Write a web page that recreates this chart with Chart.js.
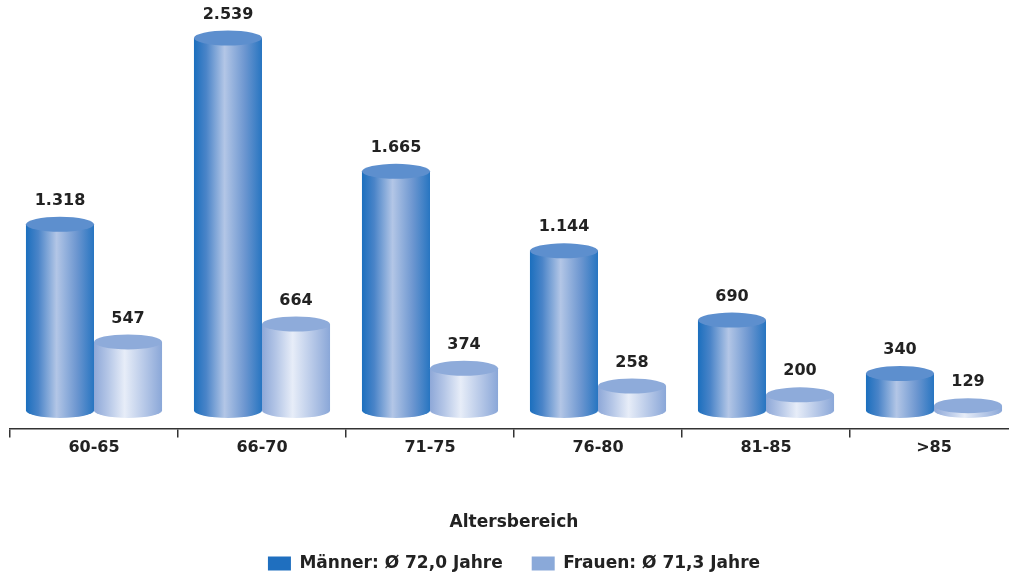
<!DOCTYPE html>
<html lang="de">
<head>
<meta charset="utf-8">
<title>Altersbereich</title>
<script src="https://cdn.jsdelivr.net/npm/chart.js@4/dist/chart.umd.min.js"></script>
<style>
  html, body { margin: 0; padding: 0; background: #fff; overflow: hidden; }
  #wrap { width: 1020px; height: 579px; }
</style>
</head>
<body>
<div id="wrap"><canvas id="ageChart" width="1020" height="579"></canvas></div>
<script>
const categories = ['60-65', '66-70', '71-75', '76-80', '81-85', '>85'];
const maenner = [1318, 2539, 1665, 1144, 690, 340];
const frauen = [547, 664, 374, 258, 200, 129];
const seriesNames = ['Männer: Ø 72,0 Jahre', 'Frauen: Ø 71,3 Jahre'];
const axisTitle = 'Altersbereich';

const FONT = "'DejaVu Sans', Verdana, sans-serif";
const TEXT = '#222';

// cylinder colours: gradient across the body, flat colour on the lid
const styles = [
  { swatch: '#1f6fbf', lid: '#5d8fce',
    stops: [[0, '#1b6fbe'], [0.18, '#4a84c8'], [0.45, '#b3c6e6'], [0.75, '#6c96d0'], [1, '#2775c1']] },
  { swatch: '#8aa9d9', lid: '#8eabda',
    stops: [[0, '#8ea8d8'], [0.2, '#b3c5e6'], [0.45, '#e7edf8'], [0.75, '#b5c7e7'], [1, '#8aa7d8']] }
];

function fmt(v) {
  return String(v).replace(/\B(?=(\d{3})+(?!\d))/g, '.');
}

// draws every bar as a cylinder plus its value, instead of the flat bars
const cylinders = {
  id: 'cylinders',
  beforeDatasetsDraw(chart) {
    const ctx = chart.ctx;
    const metas = chart.data.datasets.map((d, i) => chart.getDatasetMeta(i));
    for (let j = 0; j < categories.length; j++) {
      metas.forEach((meta, i) => {
        const bar = meta.data[j];
        const w = bar.width, x0 = bar.x - w / 2, rx = w / 2, ry = 7.5;
        const top = bar.y, base = bar.base;
        const st = styles[i];
        const g = ctx.createLinearGradient(x0, 0, x0 + w, 0);
        st.stops.forEach(s => g.addColorStop(s[0], s[1]));
        ctx.save();
        ctx.fillStyle = g;
        ctx.beginPath();
        ctx.moveTo(x0, top);
        ctx.lineTo(x0, base);
        ctx.ellipse(bar.x, base, rx, ry, 0, Math.PI, 0, true);
        ctx.lineTo(x0 + w, top);
        ctx.closePath();
        ctx.fill();
        ctx.fillStyle = st.lid;
        ctx.beginPath();
        ctx.ellipse(bar.x, top, rx, ry, 0, 0, Math.PI * 2);
        ctx.fill();
        ctx.fillStyle = TEXT;
        ctx.font = 'bold 16px ' + FONT;
        ctx.textAlign = 'center';
        ctx.textBaseline = 'middle';
        ctx.fillText(fmt(chart.data.datasets[i].data[j]), bar.x, top - ry - 16);
        ctx.restore();
      });
    }
    return false;
  }
};

const ctx = document.getElementById('ageChart').getContext('2d');
const ageChart = new Chart(ctx, {
  type: 'bar',
  data: {
    labels: categories,
    datasets: [
      { label: seriesNames[0], data: maenner, backgroundColor: styles[0].swatch,
        base: 98, categoryPercentage: 0.81, barPercentage: 1 },
      { label: seriesNames[1], data: frauen, backgroundColor: styles[1].swatch,
        base: 98, categoryPercentage: 0.81, barPercentage: 1 }
    ]
  },
  options: {
    responsive: false,
    animation: false,
    layout: { padding: { left: 10, right: 2, top: 16, bottom: -3 } },
    plugins: {
      legend: {
        position: 'bottom',
        labels: {
          boxWidth: 23, boxHeight: 14, padding: 29, color: TEXT,
          font: { family: FONT, size: 17, weight: 'bold' }
        }
      },
      tooltip: { enabled: false }
    },
    scales: {
      x: {
        grid: { offset: true, drawOnChartArea: false, tickLength: 9, color: '#333', lineWidth: 1.5 },
        border: { color: '#333', width: 1.5 },
        ticks: { color: TEXT, padding: 1, font: { family: FONT, size: 16, weight: 'bold' } },
        title: {
          display: true, text: axisTitle, color: TEXT,
          font: { family: FONT, size: 17, weight: 'bold' },
          padding: { top: 54, bottom: -7 }
        }
      },
      y: { display: false, min: -20, max: 2683 }
    }
  },
  plugins: [cylinders]
});
</script>
</body>
</html>
